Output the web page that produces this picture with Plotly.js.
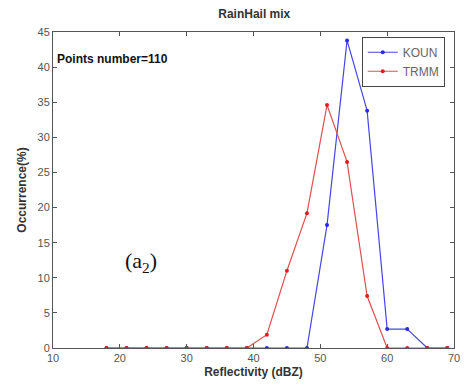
<!DOCTYPE html>
<html><head><meta charset="utf-8">
<script src="https://cdn.plot.ly/plotly-3.0.1.min.js"></script>
<style>body{margin:0;background:#fff}#c{width:464px;height:387px}</style>
</head><body><div id="c"></div>
<script>
const xVals = [18,21,24,27,30,33,36,39,42,45,48,51,54,57,60,63,66,69];
const koun  = [0,0,0,0,0,0,0,0,0,0,0,17.5,43.8,33.8,2.7,2.7,0,0];
const trmm  = [0,0,0,0,0,0,0,0,1.9,11.0,19.2,34.6,26.5,7.4,0,0,0,0];
const seriesNames = ['KOUN','TRMM'];

const traces = [
  {x:xVals, y:koun, name:seriesNames[0], mode:'lines+markers', type:'scatter',
   line:{color:'rgb(70,70,230)', width:1.2}, marker:{color:'rgb(40,40,230)', size:4}},
  {x:xVals, y:trmm, name:seriesNames[1], mode:'lines+markers', type:'scatter',
   line:{color:'rgb(225,80,80)', width:1.2}, marker:{color:'rgb(225,30,30)', size:4}}
];
const axisCommon = {showgrid:false, zeroline:false, showline:true, linecolor:'#555', linewidth:1,
  mirror:'ticks', ticks:'inside', ticklen:4, tickcolor:'#555',
  tickfont:{family:'Liberation Sans, Arial', size:11, color:'#555'}};
const layout = {
  width:464, height:387,
  margin:{l:53, r:10, t:32, b:39},
  paper_bgcolor:'#fff', plot_bgcolor:'#fff',
  title:{text:'<b>RainHail mix</b>', font:{family:'Liberation Sans, Arial', size:12, color:'#333'}, x:0.548, xanchor:'center', y:0.965, yanchor:'middle'},
  xaxis:Object.assign({}, axisCommon, {range:[10,70], dtick:10, tick0:10,
    title:{text:'<b>Reflectivity (dBZ)</b>', font:{family:'Liberation Sans, Arial', size:12, color:'#333'}, standoff:4}}),
  yaxis:Object.assign({}, axisCommon, {range:[0,45], dtick:5, tick0:0,
    title:{text:'<b>Occurrence(%)</b>', font:{family:'Liberation Sans, Arial', size:12, color:'#333'}, standoff:8}}),
  showlegend:true,
  legend:{x:0.77, y:0.985, xanchor:'left', yanchor:'top', bordercolor:'#444', borderwidth:1, bgcolor:'#fff',
    font:{family:'Liberation Sans, Arial', size:12, color:'#666'}, tracegroupgap:0, itemwidth:30},
  annotations:[
    {xref:'paper', yref:'paper', x:0.005, y:0.915, xanchor:'left', yanchor:'middle', showarrow:false,
     text:'<b>Points number=110</b>', font:{family:'Liberation Sans, Arial', size:12, color:'#111'}},
    {xref:'x', yref:'y', x:23.2, y:12.3, xanchor:'center', yanchor:'middle', showarrow:false,
     text:'(a<sub>2</sub>)', font:{family:'Liberation Serif, Times New Roman', size:22, color:'#111'}}
  ]
};
Plotly.newPlot('c', traces, layout, {displayModeBar:false, staticPlot:true});
</script></body></html>
